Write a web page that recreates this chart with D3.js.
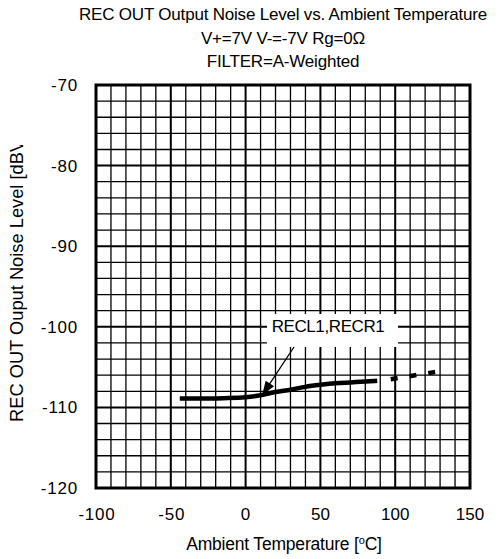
<!DOCTYPE html>
<html>
<head>
<meta charset="utf-8">
<script src="https://cdn.jsdelivr.net/npm/d3@7"></script>
<style>
  body { margin: 0; background: #fff; }
  text { font-family: 'Liberation Sans', Arial, sans-serif; fill: #000; }
</style>
</head>
<body>
<script>
var WIDTH = 504, HEIGHT = 559;
var LEFT = 96, RIGHT = 470, TOP = 85, BOTTOM = 488;

var titleLines = ['REC OUT Output Noise Level vs. Ambient Temperature', 'V+=7V V-=-7V Rg=0\u03A9', 'FILTER=A-Weighted'];
var xTicks = [-100, -50, 0, 50, 100, 150];
var yTicks = [-70, -80, -90, -100, -110, -120];

// measured curve (solid part)
var tempSolid = [-44, -30, -15, 0, 10, 20, 30, 40, 50, 60, 70, 80, 88];
var noiseSolid = [-108.9, -108.9, -108.85, -108.75, -108.5, -108.1, -107.8, -107.45, -107.2, -107.0, -106.9, -106.8, -106.7];
// dashed extension
var tempDash = [97, 127];
var noiseDash = [-106.5, -105.6];

var svg = d3.select('body').append('svg').attr('width', WIDTH).attr('height', HEIGHT);

var x = d3.scaleLinear().domain([-100, 150]).range([LEFT, RIGHT]);
var y = d3.scaleLinear().domain([-120, -70]).range([BOTTOM, TOP]);

// grid
var grid = svg.append('g');
d3.range(-100, 151, 10).forEach(function (v) {
    grid.append('line')
        .attr('x1', x(v)).attr('x2', x(v)).attr('y1', TOP).attr('y2', BOTTOM)
        .attr('stroke', '#000')
        .attr('stroke-width', v % 50 === 0 ? 2 : 1.3);
});
d3.range(-120, -69, 2).forEach(function (v) {
    grid.append('line')
        .attr('y1', y(v)).attr('y2', y(v)).attr('x1', LEFT).attr('x2', RIGHT)
        .attr('stroke', '#000')
        .attr('stroke-width', v % 10 === 0 ? 2 : 1.3);
});
svg.append('rect')
    .attr('x', LEFT).attr('y', TOP).attr('width', RIGHT - LEFT).attr('height', BOTTOM - TOP)
    .attr('fill', 'none').attr('stroke', '#000').attr('stroke-width', 3);

// tick labels
svg.append('g').selectAll('text').data(xTicks).enter().append('text')
    .attr('x', function (d) { return x(d) + (d < 0 ? 1 : 0); })
    .attr('y', 520)
    .attr('text-anchor', 'middle')
    .attr('font-size', 17)
    .attr('letter-spacing', function (d) { return d < 0 ? 0.8 : 0; })
    .text(function (d) { return d < 0 ? '-' + Math.abs(d) : d; });

svg.append('g').selectAll('text').data(yTicks).enter().append('text')
    .attr('x', 78)
    .attr('y', function (d) { return y(d) + 6; })
    .attr('text-anchor', 'end')
    .attr('font-size', 17)
    .attr('letter-spacing', 0.8)
    .text(function (d) { return '-' + Math.abs(d); });

// titles
var titleY = [20, 44, 67];
svg.append('g').selectAll('text').data(titleLines).enter().append('text')
    .attr('x', 283)
    .attr('y', function (d, i) { return titleY[i]; })
    .attr('text-anchor', 'middle')
    .attr('font-size', 17)
    .attr('letter-spacing', -0.2)
    .text(function (d) { return d; });

// axis titles
var xl = svg.append('text')
    .attr('x', 284).attr('y', 550)
    .attr('text-anchor', 'middle')
    .attr('font-size', 17.5)
    .attr('letter-spacing', -0.2);
xl.append('tspan').text('Ambient Temperature [');
xl.append('tspan').attr('font-size', 11).attr('dy', -6).text('o');
xl.append('tspan').attr('dy', 6).text('C]');

svg.append('clipPath').attr('id', 'yclip')
    .append('rect').attr('x', 0).attr('y', 145).attr('width', 40).attr('height', 300);
svg.append('g').attr('clip-path', 'url(#yclip)')
    .append('text')
    .attr('transform', 'translate(23,422) rotate(-90)')
    .attr('text-anchor', 'start')
    .attr('font-size', 18.3)
    .text('REC OUT Ouput Noise Level [dBV]');

// curve
var line = d3.line()
    .x(function (d) { return x(d[0]); })
    .y(function (d) { return y(d[1]); })
    .curve(d3.curveMonotoneX);

svg.append('path')
    .datum(d3.zip(tempSolid, noiseSolid))
    .attr('d', line)
    .attr('fill', 'none').attr('stroke', '#000').attr('stroke-width', 4.5);

svg.append('path')
    .datum(d3.zip(tempDash, noiseDash))
    .attr('d', line)
    .attr('fill', 'none').attr('stroke', '#000').attr('stroke-width', 4.5)
    .attr('stroke-dasharray', '7,12');

// annotation
svg.append('rect')
    .attr('x', 267).attr('y', 314)
    .attr('width', 131).attr('height', 33)
    .attr('fill', '#fff');
svg.append('text')
    .attr('x', 328).attr('y', 332)
    .attr('text-anchor', 'middle')
    .attr('font-size', 17)
    .attr('letter-spacing', -0.4)
    .text('RECL1,RECR1');

var ax1 = 294, ay1 = 347, ax2 = x(11), ay2 = y(-108.5);
svg.append('line')
    .attr('x1', ax1).attr('y1', ay1).attr('x2', ax2).attr('y2', ay2)
    .attr('stroke', '#000').attr('stroke-width', 1.3);
var ang = Math.atan2(ay2 - ay1, ax2 - ax1), hl = 15, hw = 0.34;
svg.append('path')
    .attr('d', 'M' + ax2 + ',' + ay2 +
        'L' + (ax2 - hl * Math.cos(ang - hw)) + ',' + (ay2 - hl * Math.sin(ang - hw)) +
        'L' + (ax2 - hl * Math.cos(ang + hw)) + ',' + (ay2 - hl * Math.sin(ang + hw)) + 'Z')
    .attr('fill', '#000');
</script>
</body>
</html>
